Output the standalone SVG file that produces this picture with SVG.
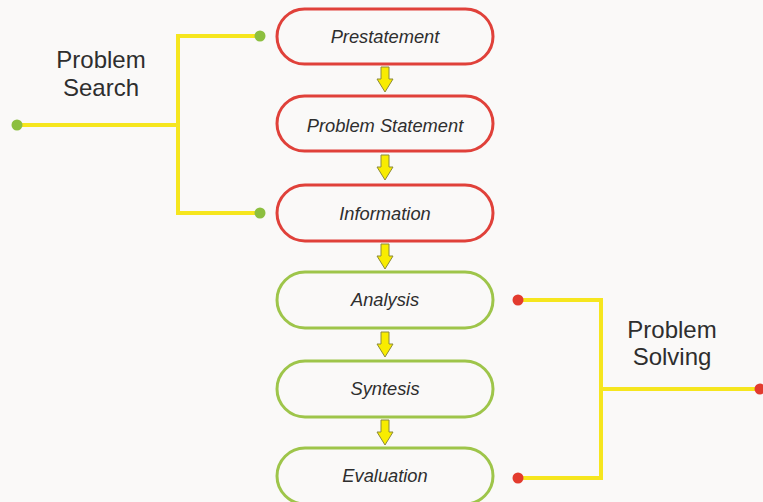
<svg xmlns="http://www.w3.org/2000/svg" width="763" height="502" viewBox="0 0 763 502">
<defs>
<style>
.bg{fill:#faf9f8}
.red rect{fill:#faf9f8;stroke:#e0413a;stroke-width:3}
.green rect{fill:#faf9f8;stroke:#9ec54a;stroke-width:3}
.lbl{font-family:"Liberation Sans",Arial,sans-serif;font-style:italic;font-size:18.3px;fill:#2e2e2e;text-anchor:middle}
.side{font-family:"Liberation Sans",Arial,sans-serif;font-size:24px;fill:#2e2e2e;text-anchor:middle}
.wire{fill:none;stroke:#f6e61e;stroke-width:4}
.arr{fill:#f8ec00;stroke:#8c8a3a;stroke-width:1}
.gdot{fill:#8cbf3f}
.rdot{fill:#e33b2e}
</style>
<path id="ar" d="M-4,0 H4 V12 H8 L0,25 L-8,12 H-4 Z"/>
</defs>
<rect class="bg" width="763" height="502"/>

<g id="node-prestatement" class="red">
<rect x="277" y="9" width="216" height="55" rx="27.5"/>
<text class="lbl" x="385" y="43">Prestatement</text>
</g>
<g id="node-problem-statement" class="red">
<rect x="277" y="96" width="216" height="55" rx="27.5"/>
<text class="lbl" x="385" y="132">Problem Statement</text>
</g>
<g id="node-information" class="red">
<rect x="277" y="185" width="216" height="56" rx="28"/>
<text class="lbl" x="385" y="220">Information</text>
</g>
<g id="node-analysis" class="green">
<rect x="277" y="272" width="216" height="56" rx="28"/>
<text class="lbl" x="385" y="306">Analysis</text>
</g>
<g id="node-syntesis" class="green">
<rect x="277" y="361" width="216" height="56" rx="28"/>
<text class="lbl" x="385" y="395">Syntesis</text>
</g>
<g id="node-evaluation" class="green">
<rect x="277" y="448" width="216" height="56" rx="28"/>
<text class="lbl" x="385" y="482">Evaluation</text>
</g>

<g id="label-problem-search">
<text class="side" x="101" y="68">Problem</text>
<text class="side" x="101" y="96">Search</text>
</g>
<g id="label-problem-solving">
<text class="side" x="672" y="338">Problem</text>
<text class="side" x="672" y="365">Solving</text>
</g>

<g id="connectors">
<use href="#ar" class="arr" x="385" y="67"/>
<use href="#ar" class="arr" x="385" y="155"/>
<use href="#ar" class="arr" x="385" y="244"/>
<use href="#ar" class="arr" x="385" y="332"/>
<use href="#ar" class="arr" x="385" y="420"/>

<path class="wire" d="M260,36 H178 V213 H260 M17,125 H178"/>
<circle class="gdot" cx="260" cy="36" r="5.5"/>
<circle class="gdot" cx="260" cy="213" r="5.5"/>
<circle class="gdot" cx="17" cy="125" r="5.5"/>

<path class="wire" d="M518,300 H601 V478 H518 M601,389 H760"/>
<circle class="rdot" cx="518" cy="300" r="5.5"/>
<circle class="rdot" cx="518" cy="478" r="5.5"/>
<circle class="rdot" cx="760" cy="389" r="5.5"/>
</g>
</svg>
